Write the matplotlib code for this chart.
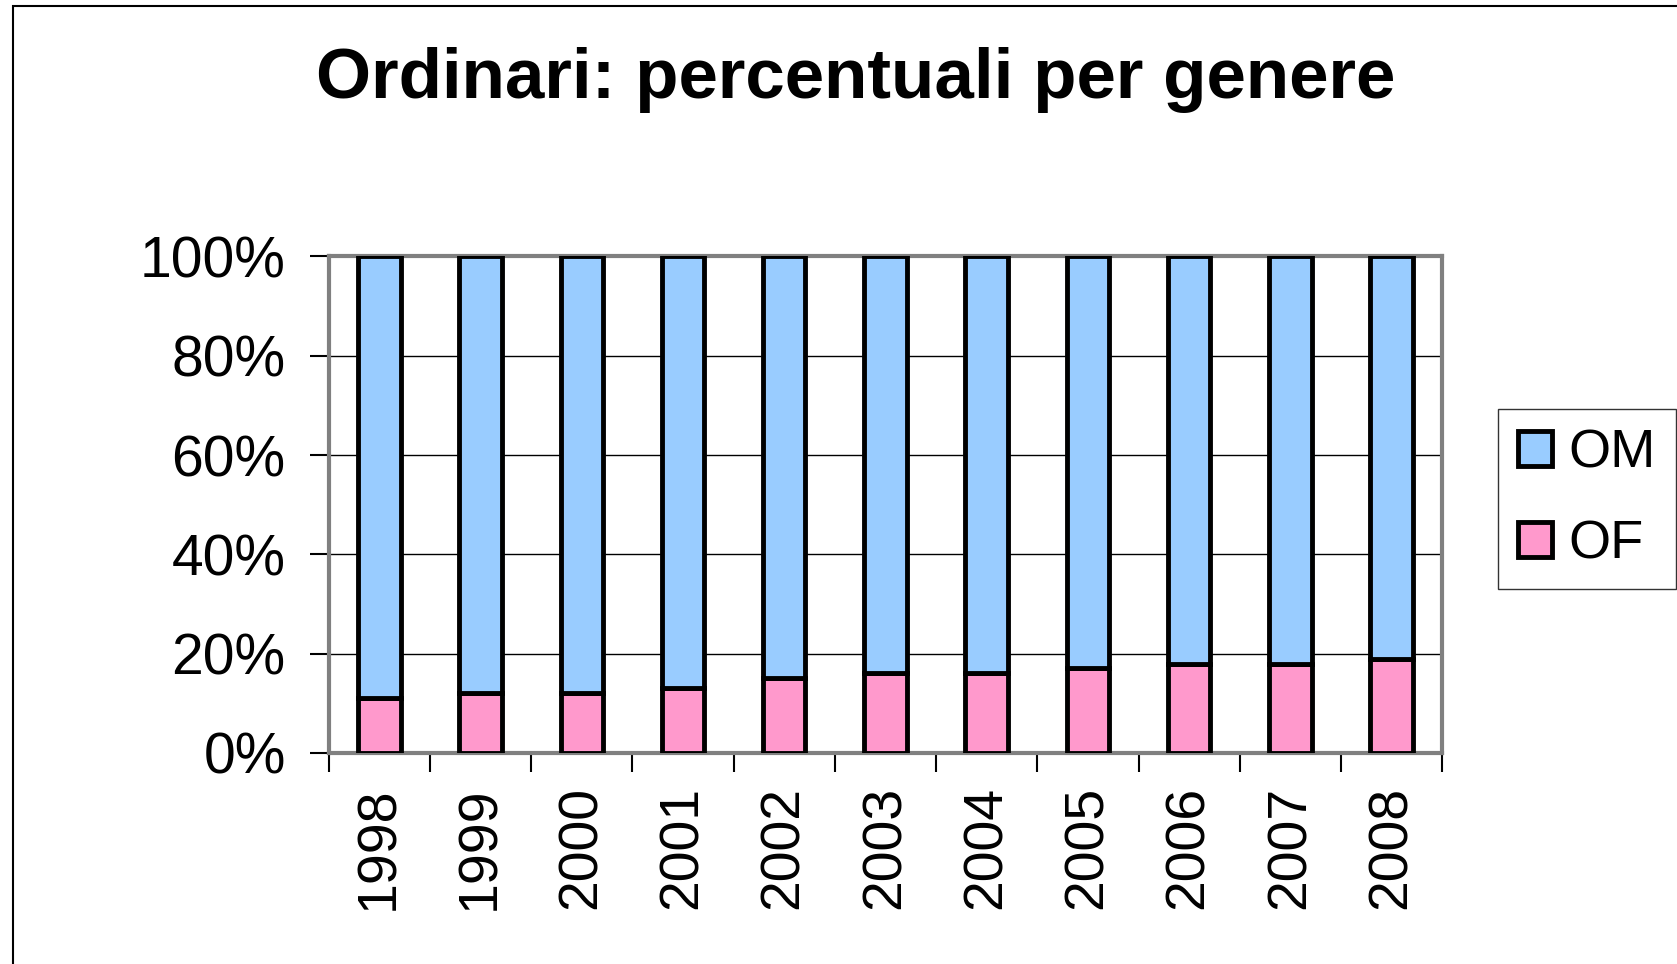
import matplotlib
matplotlib.use("Agg")
import matplotlib.pyplot as plt
from matplotlib.patches import Rectangle

years = ["1998", "1999", "2000", "2001", "2002", "2003", "2004", "2005", "2006", "2007", "2008"]
of_pct = [11, 12, 12, 13, 15, 16, 16, 17, 18, 18, 19]
om_pct = [100 - v for v in of_pct]

plt.rcParams["font.family"] = ["Liberation Sans", "DejaVu Sans"]

fig = plt.figure(figsize=(16.77, 9.64), dpi=100)
ax = fig.add_axes([0.196, 0.219, 0.664, 0.515])

x = range(len(years))
ax.bar(x, of_pct, width=0.42, color="#FF99CC", edgecolor="black", linewidth=3.5, label="OF", zorder=3)
ax.bar(x, om_pct, width=0.42, bottom=of_pct, color="#99CCFF", edgecolor="black", linewidth=3.5, label="OM", zorder=3)

ax.set_xlim(-0.5, len(years) - 0.5)
ax.set_ylim(0, 100)
ax.set_yticks([0, 20, 40, 60, 80, 100])
ax.set_yticklabels(["0%", "20%", "40%", "60%", "80%", "100%"], fontsize=41)
ax.yaxis.grid(True, color="black", linewidth=1, zorder=0)

# labels at centres, tick marks between categories
ax.set_xticks(list(x))
ax.set_xticklabels(years, rotation=90, fontsize=40)
ax.set_xticks([i - 0.5 for i in range(len(years) + 1)], minor=True)
ax.tick_params(axis="x", which="major", length=0, pad=24)
ax.tick_params(axis="x", which="minor", length=14, width=1.5, color="black")
ax.tick_params(axis="y", length=14, width=1.5, color="black", pad=17)

for s in ax.spines.values():
    s.set_color("#808080")
    s.set_linewidth(3)

handles, labels = ax.get_legend_handles_labels()
leg = fig.legend(handles[::-1], labels[::-1], loc="upper left", bbox_to_anchor=(0.8935, 0.576),
                 fontsize=39, frameon=True, fancybox=False, edgecolor="black",
                 handlelength=0.62, handleheight=0.62, handletextpad=0.3,
                 labelspacing=0.75, borderpad=0.37, borderaxespad=0)
leg.get_frame().set_linewidth(1)

fig.text(0.51, 0.917, "Ordinari: percentuali per genere", ha="center", va="center",
         fontsize=51, fontweight="bold")

# outer chart border
fig.patches.append(Rectangle((13 / 1677, -0.1), 1.2, 1.1 - 6 / 964, transform=fig.transFigure,
                             fill=False, edgecolor="black", linewidth=1.5))

fig.savefig("out.png", dpi=100)
